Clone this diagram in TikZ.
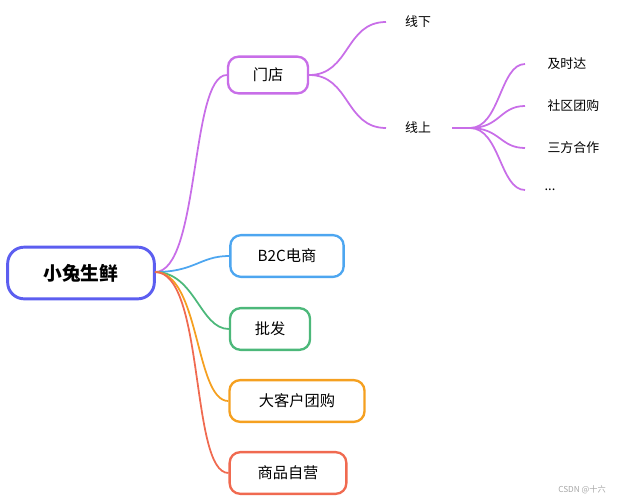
\documentclass[tikz,border=0pt]{standalone}
\usepackage{fontspec}
\setmainfont{Noto Sans CJK SC}
\begin{document}
\begin{tikzpicture}[x=0.03cm, y=-0.03cm, line width=1.2pt]
	\definecolor{rootc}{RGB}{92, 94, 240}
	\definecolor{purple}{RGB}{200, 110, 232}
	\definecolor{blue}{RGB}{77, 166, 240}
	\definecolor{green}{RGB}{76, 184, 122}
	\definecolor{orange}{RGB}{245, 160, 32}
	\definecolor{red}{RGB}{240, 106, 80}
	\tikzset{
		topic/.style={draw=#1, line width=2pt, rounded corners=9pt, minimum height=0.011cm*100, inner xsep=8pt, font=\fontsize{13}{15}\selectfont},
		leaf/.style={font=\fontsize{11}{13}\selectfont},
		branch/.style={#1, line width=1.5pt}
	}
	\useasboundingbox (0,0) rectangle (631,501);
	
	% root
	\node[draw=rootc, line width=2.5pt, rounded corners=14pt, minimum width=4.4cm, minimum height=1.55cm, font=\fontsize{16}{18}\selectfont\bfseries] (root) at (81,273) {小兔生鲜};
	
	% first level
	\node[topic=purple, minimum width=2.4cm] (store) at (268,75) {门店};
	\node[topic=blue, minimum width=3.4cm, minimum height=1.25cm] (btoc) at (287,256) {B2C电商};
	\node[topic=green, minimum width=2.4cm, minimum height=1.25cm] (whole) at (270,329) {批发};
	\node[topic=orange, minimum width=4.05cm, minimum height=1.25cm] (group) at (297,401) {大客户团购};
	\node[topic=red, minimum width=3.5cm, minimum height=1.25cm] (self) at (288,473) {商品自营};
	\coordinate (r) at (155,272);
	\draw[branch=purple] (r) .. controls (200,272) and (190,75) .. (store.west);
	\draw[branch=blue] (r) .. controls (195,272) and (200,256) .. (btoc.west);
	\draw[branch=green] (r) .. controls (195,272) and (200,329) .. (whole.west);
	\draw[branch=orange] (r) .. controls (200,272) and (195,401) .. (group.west);
	\draw[branch=red] (r) .. controls (205,272) and (190,473) .. (self.west);
	
	% second level
	\node[leaf] (off) at (418,22) {线下};
	\node[leaf] (on) at (418,128) {线上};
	\coordinate (offl) at (386,22);
	\coordinate (onl) at (386,128);
	\coordinate (onr) at (452,128);
	\draw[branch=purple] (store.east) .. controls (350,75) and (345,22) .. (offl);
	\draw[branch=purple] (store.east) .. controls (350,75) and (345,128) .. (onl);
	\draw[branch=purple] (onr) -- (470,128);
	
	% third level
	\node[leaf, anchor=west] (fast) at (543,64) {及时达};
	\node[leaf, anchor=west] (comm) at (543,106) {社区团购};
	\node[leaf, anchor=west] (third) at (543,148) {三方合作};
	\node[leaf, anchor=west] (more) at (540,190) {...};
	\foreach \n/\y in {fast/64, comm/106, third/148, more/190}
		\draw[branch=purple] (470,128) .. controls (500,128) and (500,\y) .. (525,\y);
	
	% watermark
	\node[text=gray!70, font=\fontsize{7}{8}\selectfont] (mark) at (582,490) {CSDN @十六};
\end{tikzpicture}
\end{document}
